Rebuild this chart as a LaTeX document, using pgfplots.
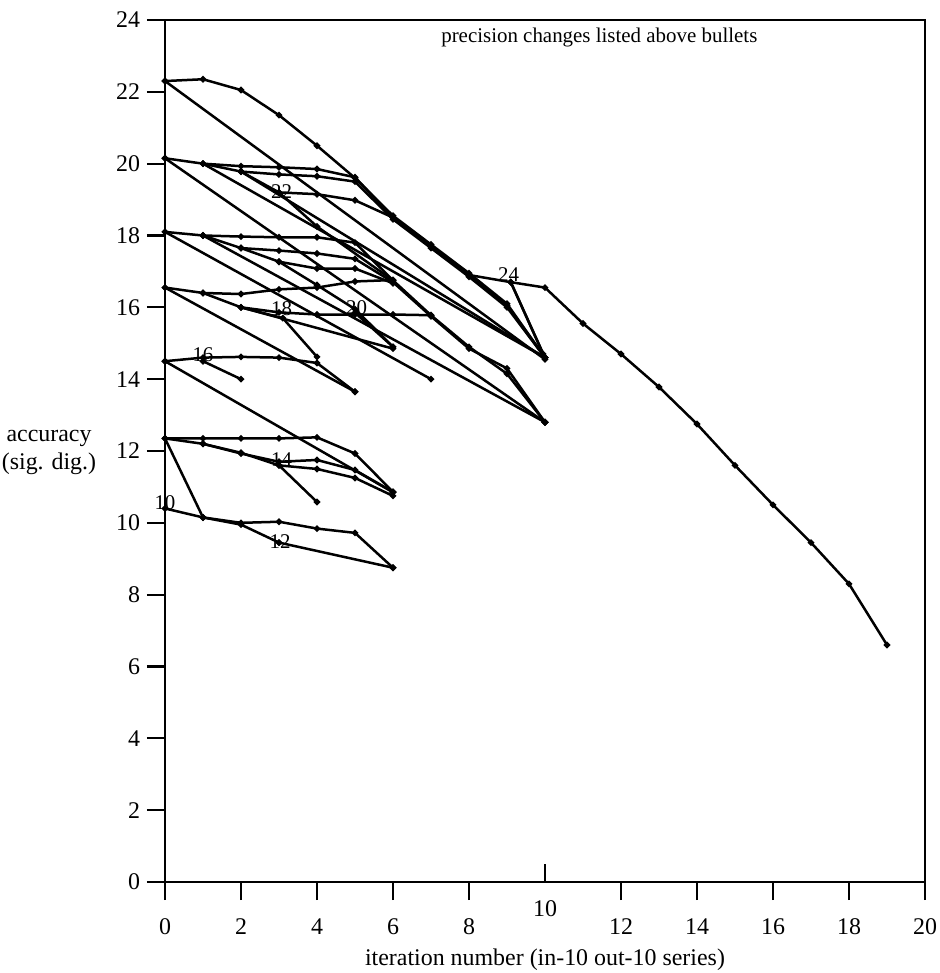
\documentclass[border=0pt]{standalone}
\usepackage{fontspec}
\setmainfont{Liberation Serif}
\usepackage{pgfplots}
\pgfplotsset{compat=1.18}
\begin{document}
\begin{tikzpicture}
\path[use as bounding box] (-82.5bp,-45.5bp) rectangle (387.5bp,441bp);
\begin{axis}[
 at={(0,0)}, anchor=south west,
 scale only axis, width=380bp, height=431bp,
 xmin=0, xmax=20, ymin=0, ymax=24,
 xtick={0,2,4,6,8,12,14,16,18,20},
 ytick={0,2,...,24},
 extra x ticks={10},
 extra x tick style={tick align=inside},
 tick align=outside,
 major tick length=9bp,
 xtick pos=bottom, ytick pos=left,
 xticklabel style={yshift=-6bp},
 tick label style={font=\fontsize{12}{14}\selectfont},
 /pgf/number format/assume math mode=true,
 xlabel={iteration number (in-10 out-10 series)},
 xlabel style={font=\fontsize{12}{14}\selectfont, at={(axis description cs:0.5,0)}, anchor=center, yshift=-39bp},
 clip=false,
 axis line style={line width=1.1bp},
 tick style={line width=1.1bp, black},
 cycle list={{black}},
 every axis plot/.append style={black, solid, line width=1.25bp, mark=*, mark size=0.9bp, mark options={solid, fill=black}},
]
% precision 24 (top)
\addplot coordinates {(0,22.3)(1,22.35)(2,22.05)(3,21.35)(4,20.5)(5,19.6)(6,18.55)(7,17.75)(8,16.95)(9,16.1)(10,14.6)};
\addplot coordinates {(0,22.3)(10,14.55)};
\addplot coordinates {(8,16.9)(9.1,16.7)(10,14.6)};
\addplot coordinates {(9.1,16.7)(9.95,14.7)};
\addplot coordinates {(9.1,16.7)(10,16.55)(11,15.55)(12,14.7)(13,13.78)(14,12.75)(15,11.6)(16,10.5)(17,9.45)(18,8.3)(19,6.6)};
% 20.15 group
\addplot coordinates {(0,20.15)(1,20.0)(2,19.93)(3,19.9)(4,19.85)(5,19.62)(6,18.5)(7,17.7)(8,16.9)(9,16.05)(10,14.6)};
\addplot coordinates {(1,20.0)(2,19.78)(3,19.7)(4,19.65)(5,19.5)(6,18.45)(7,17.65)(8,16.85)(9,16.0)(10,14.6)};
\addplot coordinates {(2,19.78)(3,19.2)(4,19.15)(5,18.98)(6,18.5)};
\addplot coordinates {(0,20.15)(10,12.8)};
\addplot coordinates {(1,20.0)(10,14.6)};
\addplot coordinates {(2,19.78)(10,14.6)};
\addplot coordinates {(3,19.2)(4,18.25)(6,16.75)};
% 18.1 group
\addplot coordinates {(0,18.1)(1,18.0)(2,17.97)(3,17.95)(4,17.95)(5,17.8)(6,16.75)(7,15.78)(8,14.9)(9,14.15)(10,12.8)};
\addplot coordinates {(1,18.0)(2,17.65)(3,17.58)(4,17.5)(5,17.35)(6,16.7)(7,15.75)(8,14.85)(9,14.3)(10,12.8)};
\addplot coordinates {(2,17.65)(3,17.27)(4,17.08)(5,17.08)(6,16.67)};
\addplot coordinates {(3,17.27)(4,16.62)(5,15.95)(6,14.9)};
\addplot coordinates {(0,18.1)(7,14.0)};
\addplot coordinates {(1,18.0)(10,12.8)};
% 16.55 group
\addplot coordinates {(0,16.55)(1,16.4)(2,16.37)(3,16.5)(4,16.55)(5,16.72)(6,16.76)};
\addplot coordinates {(0,16.55)(5,13.65)};
\addplot coordinates {(1,16.4)(2,16.0)(3,15.86)(4,15.8)(5,15.8)(6,15.8)(7,15.78)};
\addplot coordinates {(2,16.0)(3.1,15.7)(4,14.62)};
\addplot coordinates {(2,16.0)(6,14.85)};
\addplot coordinates {(5,15.85)(6,14.9)};
% 14.5 group
\addplot coordinates {(0,14.5)(1,14.6)(2,14.62)(3,14.6)(4,14.45)(5,13.65)};
\addplot coordinates {(1,14.5)(2,14.0)};
\addplot coordinates {(0,14.5)(6,10.85)};
% 12.35 group
\addplot coordinates {(0,12.35)(1,12.35)(2,12.35)(3,12.35)(4,12.38)(5,11.93)(6,10.86)};
\addplot coordinates {(0,12.35)(1,12.2)(2,11.93)(3,11.7)(4,11.75)(5,11.47)(6,10.86)};
\addplot coordinates {(1,12.2)(2,11.95)(3,11.6)(4,11.5)(5,11.25)(6,10.75)};
\addplot coordinates {(3,11.6)(4,10.58)};
\addplot coordinates {(0,12.35)(1,10.15)};
% 10.4 group
\addplot coordinates {(0,10.4)(1,10.15)(2,9.95)(3,9.45)};
\addplot coordinates {(1,10.15)(2,10.0)(3,10.03)(4,9.84)(5,9.72)(6,8.75)};
\addplot coordinates {(3,9.45)(6,8.75)};
% labels
\begin{scope}[every node/.style={font=\fontsize{10.5}{12}\selectfont, inner sep=0pt}]
\node at (axis cs:3.07,19.22) {22};
\node at (axis cs:9.04,16.9) {24};
\node at (axis cs:3.07,15.97) {18};
\node at (axis cs:5.04,16.0) {20};
\node at (axis cs:1.0,14.67) {16};
\node at (axis cs:3.07,11.75) {14};
\node at (axis cs:0,10.56) {10};
\node at (axis cs:3.03,9.47) {12};
\end{scope}
\node[font=\fontsize{10.5}{12}\selectfont] at (axis cs:11.43,23.5) {precision changes listed above bullets};
\node[font=\fontsize{12}{14}\selectfont, align=center] at ([xshift=-58bp]axis cs:0,11.97) {accuracy\\(sig. dig.)};
\end{axis}
\end{tikzpicture}
\end{document}
